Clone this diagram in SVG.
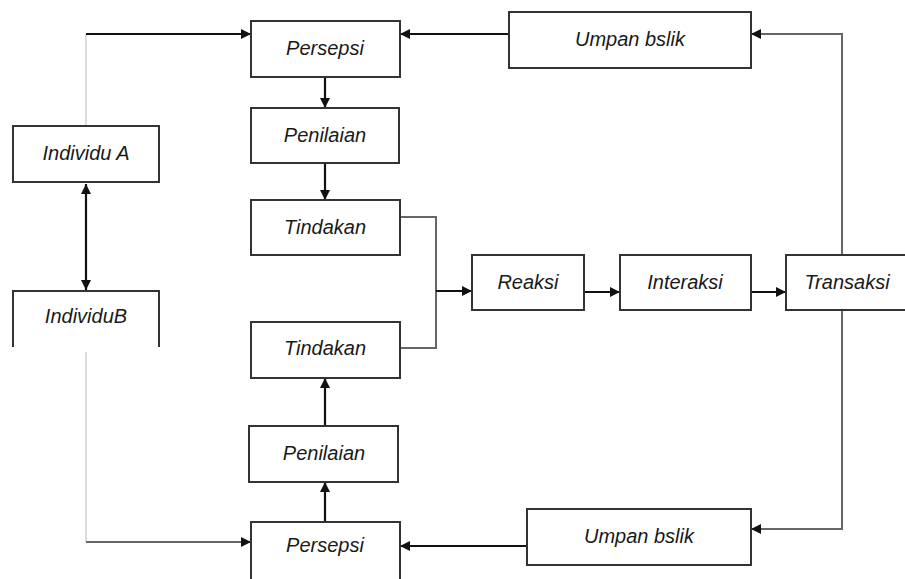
<svg xmlns="http://www.w3.org/2000/svg" width="905" height="579" viewBox="0 0 905 579">
<defs>
<marker id="ah" viewBox="0 0 10 10" refX="10" refY="5" markerWidth="10" markerHeight="10" markerUnits="userSpaceOnUse" orient="auto-start-reverse">
<path d="M0,0 L10,5 L0,10 z" fill="#111"/>
</marker>
<style>
.box{fill:#fff;stroke:#333;stroke-width:2}
.lbl{font-family:"Liberation Sans","DejaVu Sans",sans-serif;font-style:italic;font-size:20px;fill:#1a1a1a;text-anchor:middle}
.c{fill:none;stroke:#111;stroke-width:2.2}
.g{fill:none;stroke:#666;stroke-width:2}
.t{fill:none;stroke:#bbb;stroke-width:1}
</style>
</defs>
<rect width="905" height="579" fill="#fff"/>
<g id="connectors">
<path class="t" d="M86,126 V34"/>
<path class="c" d="M86,34 H251" marker-end="url(#ah)"/>
<path class="c" d="M509,34 H400" marker-end="url(#ah)"/>
<path class="g" d="M842,255 V34 H751" marker-end="url(#ah)"/>
<path class="c" d="M325,77 V108" marker-end="url(#ah)"/>
<path class="c" d="M325,163 V200" marker-end="url(#ah)"/>
<path class="c" d="M86,184 V290" marker-start="url(#ah)" marker-end="url(#ah)"/>
<path class="g" d="M400,217 H436 V348 H400"/>
<path class="c" d="M436,291 H472" marker-end="url(#ah)"/>
<path class="c" d="M584,292 H620" marker-end="url(#ah)"/>
<path class="c" d="M751,292 H786" marker-end="url(#ah)"/>
<path class="g" d="M842,310 V529 H751" marker-end="url(#ah)"/>
<path class="c" d="M527,546 H400" marker-end="url(#ah)"/>
<path class="c" d="M325,426 V378" marker-end="url(#ah)"/>
<path class="c" d="M325,522 V482" marker-end="url(#ah)"/>
<path class="t" d="M86,352 V542"/>
<path class="g" d="M86,542 H251" marker-end="url(#ah)"/>
</g>
<g id="persepsi-top"><rect class="box" x="251" y="21" width="149" height="56"/><text class="lbl" x="325" y="55">Persepsi</text></g>
<g id="umpan-top"><rect class="box" x="509" y="12" width="242" height="56"/><text class="lbl" x="630" y="46">Umpan bslik</text></g>
<g id="penilaian-top"><rect class="box" x="251" y="108" width="148" height="55"/><text class="lbl" x="325" y="142">Penilaian</text></g>
<g id="individu-a"><rect class="box" x="13" y="126" width="146" height="56"/><text class="lbl" x="86" y="160">Individu A</text></g>
<g id="tindakan-top"><rect class="box" x="251" y="200" width="149" height="55"/><text class="lbl" x="325" y="234">Tindakan</text></g>
<g id="reaksi"><rect class="box" x="472" y="255" width="112" height="55"/><text class="lbl" x="528" y="289">Reaksi</text></g>
<g id="interaksi"><rect class="box" x="620" y="255" width="131" height="55"/><text class="lbl" x="685" y="289">Interaksi</text></g>
<g id="transaksi"><rect class="box" x="786" y="255" width="130" height="55"/><text class="lbl" x="847" y="289">Transaksi</text></g>
<g id="individu-b"><path d="M13,347 V291 H159 V347" fill="#fff" stroke="#333" stroke-width="2"/><text class="lbl" x="86" y="323">IndividuB</text></g>
<g id="tindakan-bottom"><rect class="box" x="251" y="322" width="149" height="56"/><text class="lbl" x="325" y="355">Tindakan</text></g>
<g id="penilaian-bottom"><rect class="box" x="249" y="426" width="149" height="56"/><text class="lbl" x="324" y="460">Penilaian</text></g>
<g id="persepsi-bottom"><path d="M251,580 V522 H400 V580" fill="#fff" stroke="#333" stroke-width="2"/><text class="lbl" x="325" y="552">Persepsi</text></g>
<g id="umpan-bottom"><rect class="box" x="527" y="509" width="224" height="56"/><text class="lbl" x="639" y="543">Umpan bslik</text></g>
</svg>
